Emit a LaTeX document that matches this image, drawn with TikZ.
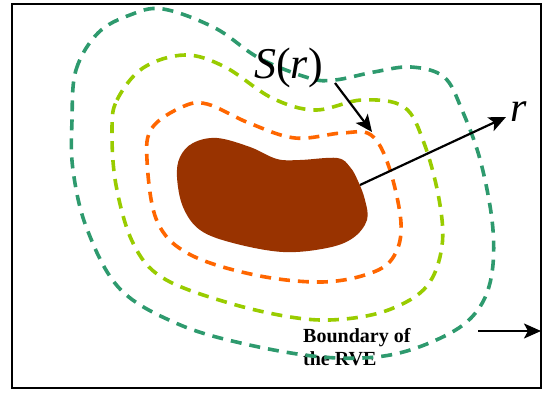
\documentclass[tikz,border=0pt]{standalone}
\usepackage{fontspec}
\setmainfont{Liberation Serif}
\usetikzlibrary{arrows.meta}
\definecolor{outergreen}{RGB}{46,154,110}
\definecolor{midgreen}{RGB}{153,204,0}
\definecolor{innerorange}{RGB}{255,102,0}
\definecolor{particle}{RGB}{153,51,0}
\tikzset{
  contour/.style={line width=3.6pt, dash pattern=on 11pt off 8pt},
  pointer/.style={line width=2.2pt, -{Stealth[length=17pt,width=15pt,inset=4pt]}},
}
\begin{document}
\begin{tikzpicture}[x=1pt,y=-1pt]
\useasboundingbox (0,0) rectangle (547,393);
\draw[line width=2.2pt] (12,4) rectangle (541,388);
% particle
\fill[particle] plot[smooth cycle, tension=0.6] coordinates {
 (177,177) (183,207) (200,230) (233,243) (283,252) (327,248) (353,238)
 (367,220) (365,200) (358,181) (350,167) (337,158) (300,160) (277,159)
 (250,147) (217,138) (193,143) (180,157)};
% text
\node[anchor=base west, inner sep=0pt, font=\fontsize{20}{23}\selectfont\bfseries, align=left]
  (bnd) at (303,365) {Boundary of\\the RVE};
% contours
\draw[contour, outergreen] plot[smooth cycle, tension=0.6] coordinates {
 (72,120) (76,70) (98,33) (130,15) (163,9) (215,28) (259,58) (309,78) (335,80)
 (374,72) (411,67) (444,77) (462,110) (481,163) (493,230) (490,283) (471,318)
 (434,341) (384,356) (322,357) (245,344) (178,324) (120,289) (87,229) (73,170)};
\draw[contour, midgreen] plot[smooth cycle, tension=0.6] coordinates {
 (112,130) (117,100) (143,68) (185,55) (225,67) (272,98) (315,110) (362,100)
 (404,107) (424,143) (439,199) (442,246) (427,286) (391,309) (345,319)
 (297,318) (229,303) (163,278) (133,243) (116,185)};
\draw[contour, innerorange] plot[smooth cycle, tension=0.6] coordinates {
 (147,160) (152,128) (182,107) (207,104) (249,123) (295,138) (342,133)
 (371,135) (389,167) (401,223) (394,256) (371,273) (322,282) (255,275)
 (189,254) (157,221)};
% labels
\node[anchor=base west, inner sep=0pt, font=\fontsize{44}{44}\selectfont] (slabel) at (254,79) {\textit{S}(\textit{r})};
\node[anchor=base west, inner sep=0pt, font=\fontsize{42}{42}\selectfont] (rlabel) at (510,122) {\textit{r}};
% arrows
\coordinate (srtail) at (335,83);
\coordinate (srtip) at (372,132);
\coordinate (rstart) at (360,185);
\coordinate (rtip) at (506,117);
\coordinate (btail) at (478,331);
\coordinate (btip) at (541,331);
\draw[pointer] (srtail) -- (srtip);
\draw[pointer] (rstart) -- (rtip);
\draw[pointer] (btail) -- (btip);
\end{tikzpicture}
\end{document}
